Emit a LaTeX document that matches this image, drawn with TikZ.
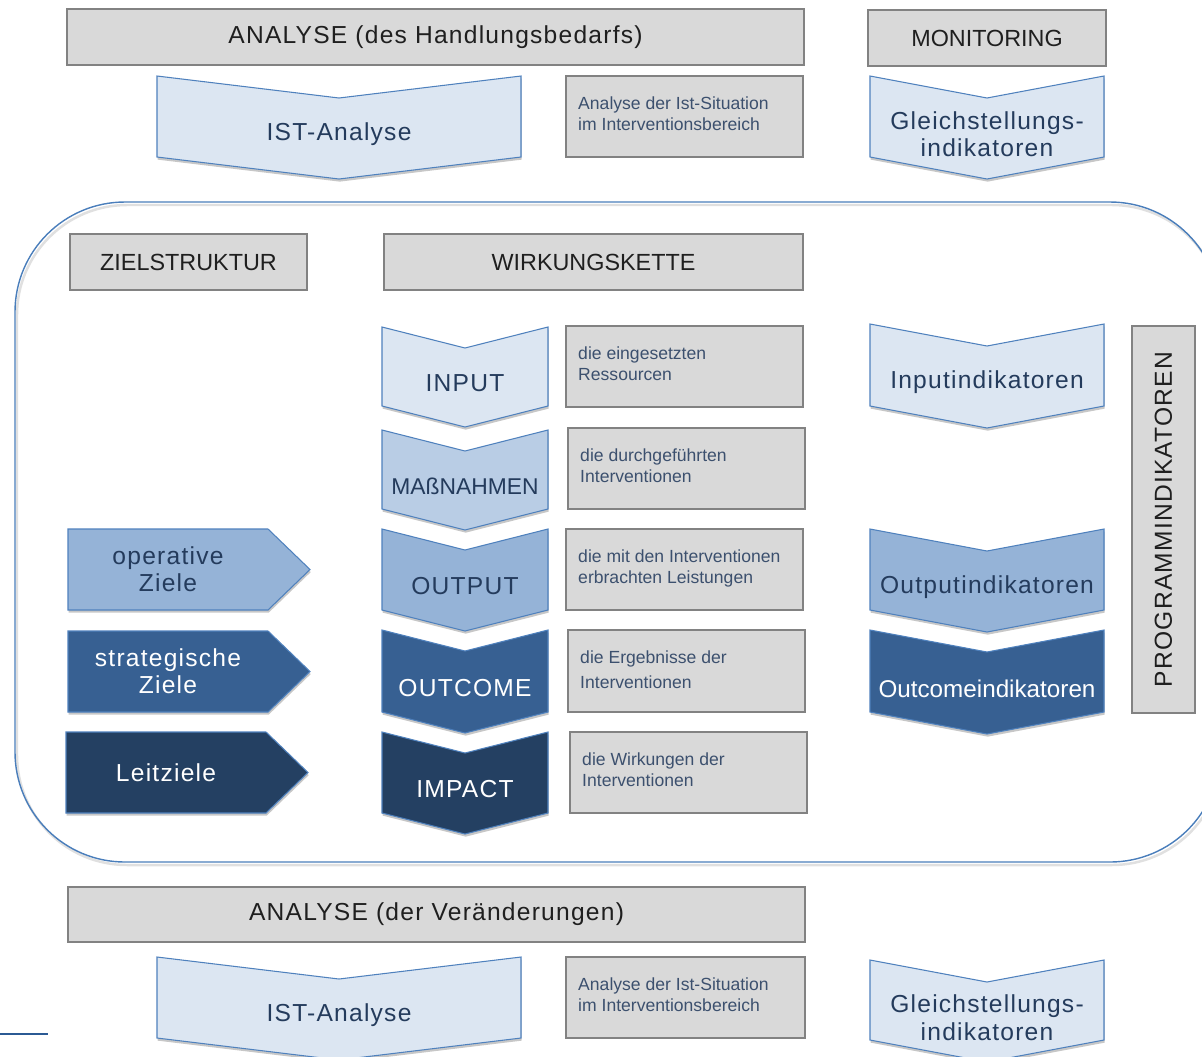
\documentclass[tikz,border=0pt]{standalone}
\usepackage{fontspec}
\setmainfont{Liberation Sans}
\newfontfamily\spaced[LetterSpace=5]{Liberation Sans}
\usetikzlibrary{shadows}

\definecolor{boxgray}{HTML}{D9D9D9}
\definecolor{boxline}{HTML}{828282}
\definecolor{chevline}{HTML}{4F81BD}
\definecolor{blueA}{HTML}{DCE6F2}
\definecolor{blueB}{HTML}{B9CDE5}
\definecolor{blueC}{HTML}{95B3D7}
\definecolor{blueD}{HTML}{376092}
\definecolor{blueE}{HTML}{244062}
\definecolor{chevtext}{HTML}{243B5C}
\definecolor{smalltext}{HTML}{3C506E}
\definecolor{framecol}{HTML}{4A7EBB}
\definecolor{linecol}{HTML}{2B5A94}

\tikzset{
  graybox/.style={draw=boxline, fill=boxgray, line width=0.7pt, inner sep=0pt,
    font=\fontsize{13.3}{15}\selectfont, text=black!88},
  smalltxt/.style={font=\fontsize{10}{12}\selectfont, text=smalltext, align=left,
    anchor=north west, inner sep=0pt},
  chevshape/.style={draw=chevline, line width=0.6pt,
    drop shadow={shadow xshift=0.4pt, shadow yshift=-1.5pt, opacity=0.22, fill=black}},
  chevtxt/.style={font=\spaced\fontsize{14}{15.5}\selectfont, align=center, inner sep=0pt}
}

\begin{document}
\begin{tikzpicture}[x=0.02cm, y=-0.02cm]
  \clip (0,0) rectangle (1202,1056);
  \fill[white] (0,0) rectangle (1202,1056);

  \draw[black!12, line width=1.4pt, rounded corners=2.2cm] (17,205) rectangle (1222,865);
  \draw[framecol, line width=0.8pt, rounded corners=2.2cm] (15,202) rectangle (1220,862);

  \foreach \nm/\xl/\xr/\yt/\yb/\txt in {
    anaA/67/804/9/65/{\spaced\fontsize{14}{15}\selectfont ANALYSE (des Handlungsbedarfs)},
    moni/868/1106/10/66/MONITORING,
    istboxA/566/803/76/157/{},
    ziel/70/307/234/290/ZIELSTRUKTUR,
    wirk/384/803/234/290/WIRKUNGSKETTE,
    resbox/566/803/326/407/{},
    durchbox/568/805/428/509/{},
    leistbox/566/803/529/610/{},
    ergbox/568/805/630/712/{},
    wirkbox/570/807/732/813/{},
    prog/1132/1195/326/713/{},
    anaB/68/805/887/942/{\spaced\fontsize{14}{15}\selectfont ANALYSE (der Veränderungen)},
    istboxB/566/805/957/1038/{}} {
      \node[graybox, minimum width={(\xr-\xl)*0.02cm}, minimum height={(\yb-\yt)*0.02cm}]
        (\nm) at ({(\xl+\xr)/2},{(\yt+\yb)/2}) {\txt};
    }

  \foreach \nm/\bx/\txt in {
    istA-t/istboxA/{Analyse der Ist-Situation\\im Interventionsbereich},
    res-t/resbox/{die eingesetzten\\Ressourcen},
    durch-t/durchbox/{die durchgeführten\\Interventionen},
    leist-t/leistbox/{die mit den Interventionen\\erbrachten Leistungen},
    erg-t/ergbox/{die Ergebnisse der\\[2.3pt]Interventionen},
    wirk-t/wirkbox/{die Wirkungen der\\Interventionen},
    istB-t/istboxB/{Analyse der Ist-Situation\\im Interventionsbereich}} {
      \node[smalltxt] (\nm) at ([xshift=0.25cm, yshift=-0.42cm]\bx.north west) {\txt};
    }

  \node[chevtxt, text=black!88, rotate=90] (prog-t) at (prog) {PROGRAMMINDIKATOREN};

  \foreach \nm/\xl/\xr/\yt/\yb/\d/\col/\tc/\txt in {
    istA/157/521/76/157/22/blueA/chevtext/IST-Analyse,
    gleichA/870/1104/76/157/22/blueA/chevtext/{Gleichstellungs-\\indikatoren},
    input/382/548/327/406/21/blueA/chevtext/INPUT,
    massn/382/548/430/509/21/blueB/chevtext/{\normalfont\fontsize{13}{15}\selectfont MAßNAHMEN},
    output/382/548/529/610/21/blueC/chevtext/OUTPUT,
    outcome/382/548/630/712/21/blueD/white/OUTCOME,
    impact/382/548/732/813/21/blueE/white/IMPACT,
    inputind/870/1104/324/406/22/blueA/chevtext/Inputindikatoren,
    outputind/870/1104/529/610/22/blueC/chevtext/Outputindikatoren,
    outcomeind/870/1104/630/712/22/blueD/white/{\normalfont\fontsize{13.8}{15}\selectfont Outcomeindikatoren},
    istB/157/521/957/1038/22/blueA/chevtext/IST-Analyse,
    gleichB/870/1104/960/1040/22/blueA/chevtext/{Gleichstellungs-\\indikatoren}} {
      \filldraw[chevshape, fill=\col] (\xl,\yt) -- ({(\xl+\xr)/2},{\yt+\d}) -- (\xr,\yt)
        -- (\xr,\yb) -- ({(\xl+\xr)/2},{\yb+\d}) -- (\xl,\yb) -- cycle;
      \node[chevtxt, text=\tc] (\nm) at ({(\xl+\xr)/2},{(\yt+\yb)/2+0.8*\d}) {\txt};
    }

  \foreach \nm/\xl/\yt/\yb/\col/\tc/\txt in {
    opziele/68/529/610/blueC/chevtext/{operative\\Ziele},
    strziele/68/631/712/blueD/white/{strategische\\Ziele},
    leitziele/66/732/813/blueE/white/Leitziele} {
      \filldraw[chevshape, fill=\col] (\xl,\yt) -- (\xl+200,\yt) -- (\xl+242,{(\yt+\yb)/2})
        -- (\xl+200,\yb) -- (\xl,\yb) -- cycle;
      \node[chevtxt, text=\tc] (\nm) at (\xl+100,{(\yt+\yb)/2}) {\txt};
    }

  \draw[linecol, line width=1.2pt] (0,1034) -- (48,1034);
\end{tikzpicture}
\end{document}
